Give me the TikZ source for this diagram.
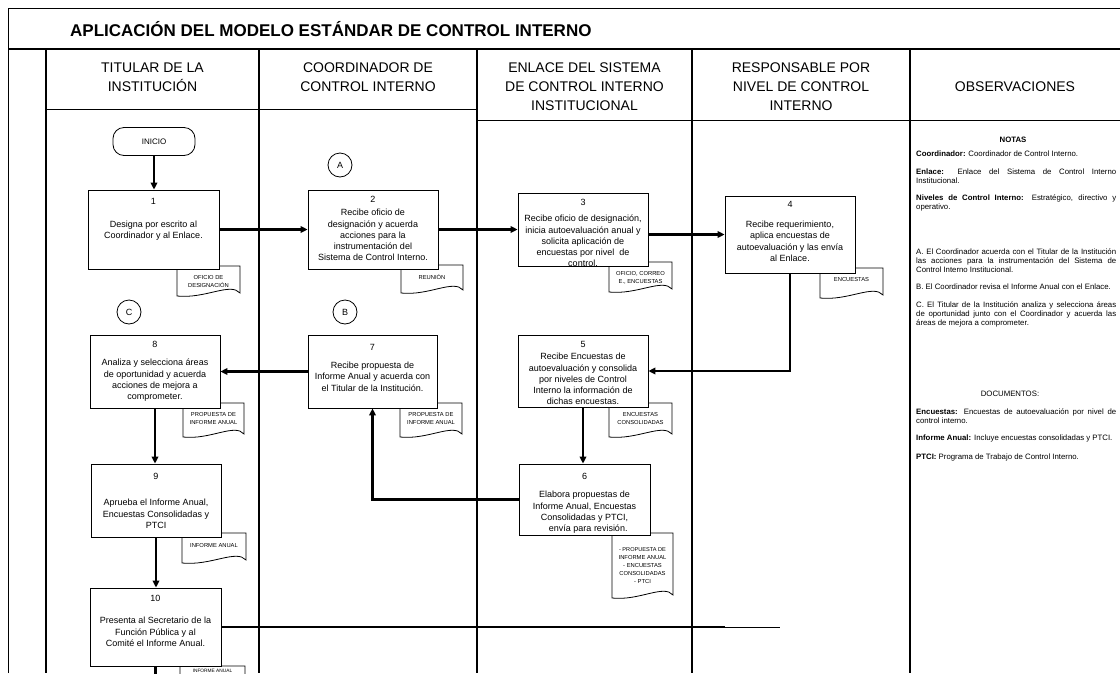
\documentclass[tikz,border=0pt]{standalone}
\usepackage{fontspec}
\setmainfont{Liberation Sans}
\usetikzlibrary{positioning,arrows.meta}
\hyphenpenalty=10000
\exhyphenpenalty=10000

% documento con borde ondulado: nombre, x1, y1, x2, y2, margen del texto, texto
\newcommand{\docshape}[7]{%
  \draw[docline] (#2,#3) -- (#4,#3) -- (#4,#5-3)
    .. controls ({#4-0.15*(#4-#2)},#5-14) and ({#2+0.45*(#4-#2)},#5+3) .. (#2,#5) -- cycle;
  \node[doctxt, anchor=north] (#1) at ({(#2+#4)/2},#3+#6) {#7};}

\begin{document}
\begin{tikzpicture}[x=1pt, y=-1pt, >={Triangle[length=7pt,width=6.5pt]}]
\tikzstyle{lane} = [line width=1.3pt]
\tikzstyle{head} = [align=center, inner sep=0pt, font=\fontsize{14}{19}\selectfont]
\tikzstyle{box} = [draw, fill=white, line width=0.8pt, inner sep=0pt]
\tikzstyle{boxtxt} = [align=center, inner sep=0pt, font=\fontsize{9}{11.2}\selectfont]
\tikzstyle{term} = [draw, fill=white, rounded corners=11pt, line width=0.8pt, minimum width=82pt, minimum height=28pt, font=\fontsize{8}{10}\selectfont]
\tikzstyle{circ} = [draw, circle, line width=0.8pt, minimum size=24pt, inner sep=0pt, font=\fontsize{9}{11}\selectfont]
\tikzstyle{docline} = [draw, fill=white, line width=0.8pt]
\tikzstyle{doctxt} = [align=center, inner sep=0pt, font=\fontsize{5.8}{8}\selectfont]
\tikzstyle{notetxt} = [anchor=north west, text width=200pt, align=justify, inner sep=0pt, font=\fontsize{7.8}{9}\selectfont]
\tikzstyle{flow} = [->, line width=2.5pt]

\useasboundingbox (0,0) rectangle (1120,673);

% marco y carriles
\draw[line width=1pt] (8,673) -- (8,8) -- (1120,8);
\draw[line width=2.4pt] (8,49) -- (1120,49);
\foreach \x in {46,259,477,692,910}
  \draw[lane] (\x,49) -- (\x,673);
\draw[line width=0.8pt] (46,109) -- (477,109);
\draw[line width=0.8pt] (477,120) -- (1120,120);

\node[anchor=west, inner sep=0pt, font=\bfseries\fontsize{17}{20}\selectfont] (titulo) at (70,29)
  {APLICACIÓN DEL MODELO ESTÁNDAR DE CONTROL INTERNO};

\node[head] (h1) at (152.5,77) {TITULAR DE LA\\INSTITUCIÓN};
\node[head] (h2) at (368,77) {COORDINADOR DE\\CONTROL INTERNO};
\node[head] (h3) at (584.5,86.5) {ENLACE DEL SISTEMA\\DE CONTROL INTERNO\\INSTITUCIONAL};
\node[head] (h4) at (801,86.5) {RESPONSABLE POR\\NIVEL DE CONTROL\\INTERNO};
\node[head] (h5) at (1015,87) {OBSERVACIONES};

% documentos
\docshape{d1}{177}{266}{240}{296}{9}{OFICIO DE\\DESIGNACIÓN}
\docshape{d2}{401}{265}{463}{293}{9}{REUNIÓN}
\docshape{d3}{609}{262}{672}{292}{9}{OFICIO, CORREO\\E., ENCUESTAS}
\docshape{d4}{820}{268}{883}{298}{9}{ENCUESTAS}
\docshape{d5}{609}{403}{672}{437}{9}{ENCUESTAS\\CONSOLIDADAS}
\docshape{d7}{400}{403}{462}{437}{9}{PROPUESTA DE\\INFORME ANUAL}
\docshape{d8}{183}{403}{244}{437}{9}{PROPUESTA DE\\INFORME ANUAL}
\docshape{d9}{182}{533}{246}{563}{10}{INFORME ANUAL}
\docshape{d6}{612}{533}{673}{598}{14}{\fontsize{5.6}{7}\selectfont - PROPUESTA DE\\INFORME ANUAL\\- ENCUESTAS\\CONSOLIDADAS\\- PTCI}
\docshape{d10}{180}{666}{245}{700}{2.5}{\fontsize{4.8}{6}\selectfont INFORME ANUAL}

% inicio y conectores de referencia
\node[term] (ini) at (154,141.5) {INICIO};
\node[circ] (cA) at (340,165) {A};
\node[circ] (cB) at (345,312) {B};
\node[circ] (cC) at (129,312) {C};

% actividades
\node[box, minimum width=131pt, minimum height=79pt] (b1) at (153.5,229.5) {};
\node[boxtxt, below=8.8pt of b1.north] (t1) {1\\[11.8pt]Designa por escrito al\\Coordinador y al Enlace.};

\node[box, minimum width=130pt, minimum height=79pt] (b2) at (373,229.5) {};
\node[boxtxt, below=6.8pt of b2.north] (t2) {2\\[1.8pt]Recibe oficio de\\designación y acuerda\\acciones para la\\instrumentación del\\Sistema de Control Interno.};

\node[box, minimum width=130pt, minimum height=73pt] (b3) at (583,229.5) {};
\node[boxtxt, below=6.8pt of b3.north] (t3) {3\\[4.8pt]Recibe oficio de designación,\\inicia autoevaluación anual y\\solicita aplicación de\\encuestas por nivel\ \ de\\control.};

\node[box, minimum width=130pt, minimum height=77pt] (b4) at (790,234.5) {};
\node[boxtxt, below=5.8pt of b4.north] (t4) {4\\[8.8pt]Recibe requerimiento,\\aplica encuestas de\\autoevaluación y las envía\\al Enlace.};

\node[box, minimum width=130pt, minimum height=72pt] (b5) at (583,371) {};
\node[boxtxt, below=6.8pt of b5.north] (t5) {5\\[0.8pt]Recibe Encuestas de\\autoevaluación y consolida\\por niveles de Control\\Interno la información de\\dichas encuestas.};

\node[box, minimum width=131pt, minimum height=71pt] (b6) at (584.5,499.5) {};
\node[boxtxt, below=9.8pt of b6.north] (t6) {6\\[6.8pt]Elabora propuestas de\\Informe Anual, Encuestas\\Consolidadas y PTCI,\\\ \ \ envía para revisión.};

\node[box, minimum width=129pt, minimum height=73pt] (b7) at (372.5,371.5) {};
\node[boxtxt, below=9.8pt of b7.north] (t7) {7\\[6.8pt]Recibe propuesta de\\Informe Anual y acuerda con\\el Titular de la Institución.};

\node[box, minimum width=130pt, minimum height=73pt] (b8) at (155,371.5) {};
\node[boxtxt, below=6.8pt of b8.north] (t8) {8\\[6.8pt]Analiza y selecciona áreas\\de oportunidad y acuerda\\acciones de mejora a\\comprometer.};

\node[box, minimum width=130pt, minimum height=73pt] (b9) at (156,500.5) {};
\node[boxtxt, below=9.8pt of b9.north] (t9) {9\\[14.8pt]Aprueba el Informe Anual,\\Encuestas Consolidadas y\\PTCI};

\node[box, minimum width=131pt, minimum height=78pt] (b10) at (155.5,627) {};
\node[boxtxt, below=7.8pt of b10.north] (t10) {10\\[10.8pt]Presenta al Secretario de la\\Función Pública y al\\Comité el Informe Anual.};

% flujo
\coordinate (e10) at (725,0);
\coordinate (e10b) at (780,0);
\coordinate (fin) at (0,700);
\draw[flow] (ini) -- (ini |- b1.north);
\draw[flow] (b1) -- (b2);
\draw[flow] (b2) -- (b3);
\draw[flow] (b3.east |- b4) -- (b4.west);
\draw[flow] (b4) |- (b5);
\draw[flow] (b5) -- (b5 |- b6.north);
\draw[flow] (b6) -| (b7);
\draw[flow] (b7) -- (b8);
\draw[flow] (b8) -- (b8 |- b9.north);
\draw[flow] (b9) -- (b9 |- b10.north);
\draw[line width=2.5pt] (b10.east) -- (b10 -| e10);
\draw[line width=1pt] (b10 -| e10) -- (b10 -| e10b);
\draw[flow] (b10.south) -- (b10.south |- fin);

% observaciones
\node[font=\bfseries\fontsize{7.8}{9}\selectfont] (notas) at (1013,140) {NOTAS};
\node[notetxt] (n1) at (916,151) {\textbf{Coordinador:} Coordinador de Control Interno.};
\node[notetxt] (n2) at (916,169) {\textbf{Enlace:} Enlace del Sistema de Control Interno\linebreak Institucional.};
\node[notetxt] (n3) at (916,195) {\textbf{Niveles de Control Interno:} Estratégico, directivo y\linebreak operativo.};
\node[notetxt] (n4) at (916,249) {A. El Coordinador acuerda con el Titular de la Institución\linebreak las acciones para la instrumentación del Sistema de\linebreak Control Interno Institucional.};
\node[notetxt] (n5) at (916,284) {B. El Coordinador revisa el Informe Anual con el Enlace.};
\node[notetxt] (n6) at (916,302) {C. El Titular de la Institución analiza y selecciona áreas\linebreak de oportunidad junto con el Coordinador y acuerda las\linebreak áreas de mejora a comprometer.};
\node[font=\fontsize{7.8}{9}\selectfont] (docs) at (1010,394) {DOCUMENTOS:};
\node[notetxt] (n7) at (916,409) {\textbf{Encuestas:} Encuestas de autoevaluación por nivel de\linebreak control interno.};
\node[notetxt] (n8) at (916,435) {\textbf{Informe Anual:} Incluye encuestas consolidadas y PTCI.};
\node[notetxt] (n9) at (916,454) {\textbf{PTCI:} Programa de Trabajo de Control Interno.};
\end{tikzpicture}
\end{document}
